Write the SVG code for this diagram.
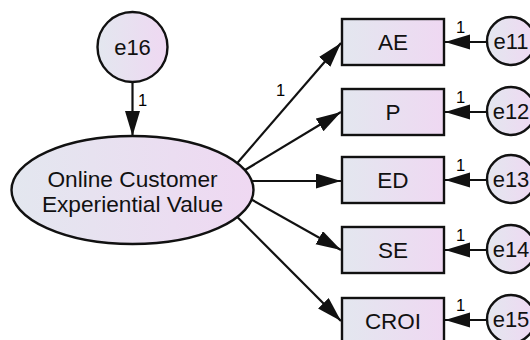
<svg xmlns="http://www.w3.org/2000/svg" width="530" height="340" viewBox="0 0 530 340">
  <style>
    .shape { fill: url(#fillGrad); stroke: #111; stroke-width: 2.4; }
    .conn { stroke: #111; stroke-width: 2.2; fill: none; marker-end: url(#arrow); }
    .lbl { font-family: "Liberation Sans", Arial, sans-serif; fill: #111; text-anchor: middle; }
    .big { font-size: 22.7px; }
    .box { font-size: 22.5px; }
    .err { font-size: 22px; }
    .one { font-family: "Liberation Sans", Arial, sans-serif; font-size: 16.5px; fill: #000; }
  </style>
  <defs>
    <linearGradient id="fillGrad" x1="0" y1="0" x2="1" y2="0">
      <stop offset="0" stop-color="#e3e7ef"/>
      <stop offset="1" stop-color="#efd8f2"/>
    </linearGradient>
    <marker id="arrow" markerUnits="userSpaceOnUse" markerWidth="26" markerHeight="16" refX="25" refY="7.5" orient="auto">
      <path d="M0,0 L25,7.5 L0,15 z" fill="#111"/>
    </marker>
  </defs>
  <rect width="530" height="340" fill="#fff"/>

  <!-- connectors -->
  <g id="connectors">
    <line class="conn" x1="132.5" y1="82" x2="132.5" y2="136"/>
    <line class="conn" x1="237.3" y1="163" x2="341" y2="43"/>
    <line class="conn" x1="245" y1="170" x2="341" y2="112"/>
    <line class="conn" x1="252" y1="181" x2="341" y2="181"/>
    <line class="conn" x1="251.5" y1="199.5" x2="341" y2="250"/>
    <line class="conn" x1="237.3" y1="217" x2="341" y2="321"/>
    <line class="conn" x1="487" y1="42" x2="445" y2="42"/>
    <line class="conn" x1="487" y1="112" x2="445" y2="112"/>
    <line class="conn" x1="487" y1="180" x2="445" y2="180"/>
    <line class="conn" x1="487" y1="250" x2="445" y2="250"/>
    <line class="conn" x1="487" y1="320" x2="445" y2="320"/>
    <text class="one" x="138" y="106">1</text>
    <text class="one" x="276" y="96">1</text>
    <text class="one" x="456" y="33">1</text>
    <text class="one" x="456" y="103">1</text>
    <text class="one" x="456" y="171">1</text>
    <text class="one" x="456" y="241">1</text>
    <text class="one" x="456" y="311">1</text>
  </g>

  <!-- latent variable and its disturbance -->
  <g id="e16">
    <circle class="shape" cx="132.5" cy="47" r="35"/>
    <text class="lbl err" x="132.5" y="54.5">e16</text>
  </g>
  <g id="ocev">
    <ellipse class="shape" cx="132.5" cy="190" rx="121" ry="54"/>
    <text class="lbl big" x="132.5" y="187">Online Customer</text>
    <text class="lbl big" x="132.5" y="212">Experiential Value</text>
  </g>

  <!-- observed indicators -->
  <g id="AE">
    <rect class="shape" x="342" y="19" width="102" height="46"/>
    <text class="lbl box" x="393" y="50">AE</text>
  </g>
  <g id="P">
    <rect class="shape" x="342" y="89" width="102" height="46"/>
    <text class="lbl box" x="393" y="120">P</text>
  </g>
  <g id="ED">
    <rect class="shape" x="342" y="157" width="102" height="46"/>
    <text class="lbl box" x="393" y="188">ED</text>
  </g>
  <g id="SE">
    <rect class="shape" x="342" y="227" width="102" height="46"/>
    <text class="lbl box" x="393" y="258">SE</text>
  </g>
  <g id="CROI">
    <rect class="shape" x="342" y="298" width="102" height="46"/>
    <text class="lbl box" x="393" y="329">CROI</text>
  </g>

  <!-- measurement errors -->
  <g id="e11">
    <circle class="shape" cx="511" cy="41" r="24"/>
    <text class="lbl err" x="511" y="48.5">e11</text>
  </g>
  <g id="e12">
    <circle class="shape" cx="511" cy="111" r="24"/>
    <text class="lbl err" x="511" y="118.5">e12</text>
  </g>
  <g id="e13">
    <circle class="shape" cx="511" cy="179" r="24"/>
    <text class="lbl err" x="511" y="186.5">e13</text>
  </g>
  <g id="e14">
    <circle class="shape" cx="511" cy="249" r="24"/>
    <text class="lbl err" x="511" y="256.5">e14</text>
  </g>
  <g id="e15">
    <circle class="shape" cx="511" cy="319" r="24"/>
    <text class="lbl err" x="511" y="326.5">e15</text>
  </g>
</svg>
